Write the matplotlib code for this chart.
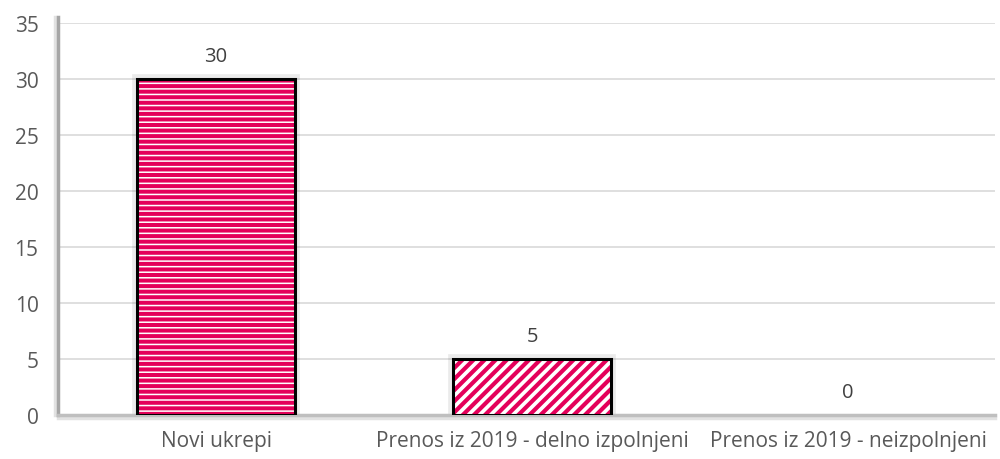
import matplotlib
matplotlib.use("Agg")
import matplotlib.pyplot as plt
import matplotlib.patheffects as pe

categories = ["Novi ukrepi", "Prenos iz 2019 - delno izpolnjeni", "Prenos iz 2019 - neizpolnjeni"]
values = [30, 5, 0]
yticks = [0, 5, 10, 15, 20, 25, 30, 35]

pink = "#E4005A"
plt.rcParams['font.family'] = ['Open Sans', 'DejaVu Sans']

fig = plt.figure(figsize=(10, 4.6), dpi=100)
ax = fig.add_axes([0.058, 0.0957, 0.937, 0.8523])

x = list(range(len(categories)))
hatches = ['---', '///', '']
hatch_lw = [2.9, 3.0, 1.0]
w = 0.5
for xi, v, h, hl in zip(x, values, hatches, hatch_lw):
    if v <= 0:
        continue
    ax.bar(xi, v, width=w, color='none', edgecolor='#000000', linewidth=7, alpha=0.08, zorder=2)
    with plt.rc_context({'hatch.linewidth': hl}):
        ax.bar(xi, v, width=w, color='white', edgecolor=pink, hatch=h, linewidth=0, zorder=3)
    ax.bar(xi, v, width=w, color='none', edgecolor='black', linewidth=2.2, zorder=4)

for xi, v in zip(x, values):
    ax.annotate(str(v), (xi, v), xytext=(0, 9), textcoords='offset points',
                ha='center', va='bottom', fontsize=14.5, color='#404040')

ax.set_xlim(-0.5, 2.465)
ax.set_ylim(0, 35)
ax.set_yticks(yticks)
ax.set_xticks(x)
ax.set_xticklabels(categories)
ax.tick_params(axis='both', length=0, labelsize=15, labelcolor='#595959')
ax.tick_params(axis='y', pad=14)
ax.tick_params(axis='x', pad=11)
ax.grid(axis='y', color='#D9D9D9', linewidth=1.2, zorder=0)
ax.set_axisbelow(True)
for s in ['top', 'right']:
    ax.spines[s].set_visible(False)
ax.spines['left'].set_color('#A6A6A6')
ax.spines['left'].set_linewidth(2.5)
ax.spines['left'].set_bounds(0, 35.5)
ax.spines['bottom'].set_color('#BFBFBF')
ax.spines['bottom'].set_linewidth(2.5)
ax.spines['left'].set_path_effects([pe.SimpleLineShadow(offset=(-2, 0), shadow_color='#D0D0D0', alpha=0.6), pe.Normal()])
ax.spines['bottom'].set_path_effects([pe.SimpleLineShadow(offset=(0, -2), shadow_color='#D0D0D0', alpha=0.6), pe.Normal()])

fig.savefig("out.png", dpi=100)
